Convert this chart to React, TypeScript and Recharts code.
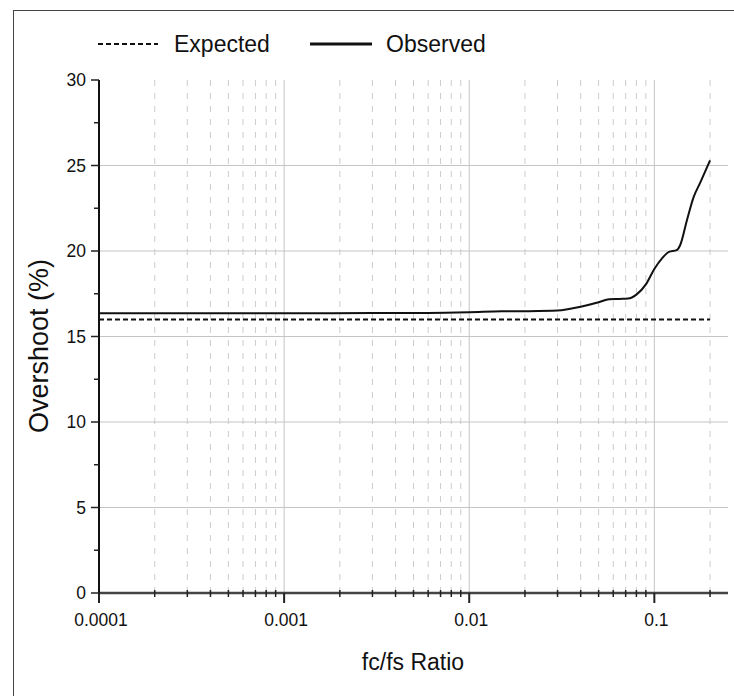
import React from 'react';
import { LineChart, Line, XAxis, YAxis, ReferenceLine } from 'recharts';

const FONT = '"Liberation Sans", Arial, Helvetica, sans-serif';

// ---- data ----
const xTicksMajor = [0.0001, 0.001, 0.01, 0.1];
const xTicksMinor = [
  0.0002, 0.0003, 0.0004, 0.0005, 0.0006, 0.0007, 0.0008, 0.0009,
  0.002, 0.003, 0.004, 0.005, 0.006, 0.007, 0.008, 0.009,
  0.02, 0.03, 0.04, 0.05, 0.06, 0.07, 0.08, 0.09,
  0.2,
];
const xDomain = [0.0001, 0.25];
const xGridMajor = [0.001, 0.01, 0.1];

const yTicksMajor = [0, 5, 10, 15, 20, 25, 30];
const yTicksMinor = [2.5, 7.5, 12.5, 17.5, 22.5, 27.5];
const yGrid = [5, 10, 15, 20, 25];

const seriesNames = ['Expected', 'Observed'];

const expectedX = [0.0001, 0.2];
const expectedY = [16, 16];

const observedX = [
  0.0001, 0.001, 0.003, 0.006, 0.01, 0.015, 0.02, 0.03, 0.04, 0.05, 0.057,
  0.065, 0.072, 0.08, 0.09, 0.1, 0.11, 0.12, 0.132, 0.138, 0.15, 0.163, 0.177, 0.2,
];
const observedY = [
  16.36, 16.36, 16.37, 16.38, 16.42, 16.47, 16.48, 16.52, 16.74, 17.0, 17.18,
  17.2, 17.22, 17.45, 18.05, 18.95, 19.57, 19.95, 20.05, 20.35, 21.8, 23.15, 24.0, 25.3,
];

const expectedData = expectedX.map((x, i) => ({ x, y: expectedY[i] }));
const observedData = observedX.map((x, i) => ({ x, y: observedY[i] }));
const xTicksAll = [...xTicksMajor, ...xTicksMinor].sort((a, b) => a - b);
const yTicksAll = [...yTicksMajor, ...yTicksMinor].sort((a, b) => a - b);

// ---- style constants ----
const X_TICK = 10;
const X_MARGIN = 11;
const Y_TICK = 8;
const Y_MARGIN = 5;

function XTick(props: any) {
  const { x, y, payload } = props;
  const v = payload.value;
  const major = xTicksMajor.includes(v);
  const axisY = y - X_TICK - X_MARGIN;
  return (
    <g>
      {major ? (
        <line x1={x} x2={x} y1={axisY} y2={axisY + X_TICK} stroke="#222" strokeWidth={2} />
      ) : (
        <line x1={x} x2={x} y1={axisY - 3} y2={axisY + 4} stroke="#222" strokeWidth={1.5} />
      )}
      {major && (
        <text x={x + 2} y={y} dy="0.71em" textAnchor="middle" fontSize={17.5} fill="#111" fontFamily={FONT}>
          {String(v)}
        </text>
      )}
    </g>
  );
}

function YTick(props: any) {
  const { x, y, payload } = props;
  const v = payload.value;
  const major = yTicksMajor.includes(v);
  const axisX = x + Y_MARGIN + Y_TICK;
  return (
    <g>
      {major ? (
        <line x1={axisX - Y_TICK} x2={axisX} y1={y} y2={y} stroke="#222" strokeWidth={1.5} />
      ) : (
        <line x1={axisX - 5} x2={axisX} y1={y} y2={y} stroke="#222" strokeWidth={1.5} />
      )}
      {major && (
        <text x={x} y={y} dy="0.36em" textAnchor="end" fontSize={17.5} fill="#111" fontFamily={FONT}>
          {String(v)}
        </text>
      )}
    </g>
  );
}

export default function App() {
  return (
    <div style={{ position: 'absolute', left: 0, top: 0, width: 734, height: 696, background: '#fff', overflow: 'hidden' }}>
      <div
        style={{
          position: 'absolute',
          left: 13,
          top: 10,
          width: 740,
          height: 700,
          borderLeft: '1.5px solid #444',
          borderTop: '1.5px solid #444',
        }}
      />
      <div style={{ position: 'absolute', left: 0, top: 0 }}>
        <LineChart width={734} height={696} margin={{ top: 80, right: 6, bottom: 43, left: 0 }}>
          {xGridMajor.map((v) => (
            <ReferenceLine key={'gx' + v} x={v} stroke="#c4c4c4" strokeWidth={1} />
          ))}
          {xTicksMinor.map((v) => (
            <ReferenceLine key={'mx' + v} x={v} stroke="#cccccc" strokeWidth={1} strokeDasharray="6 7" />
          ))}
          {yGrid.map((v) => (
            <ReferenceLine key={'gy' + v} y={v} stroke="#c4c4c4" strokeWidth={1} />
          ))}
          <XAxis
            dataKey="x"
            type="number"
            scale="log"
            domain={xDomain}
            allowDataOverflow
            ticks={xTicksAll}
            interval={0}
            tick={<XTick />}
            tickLine={false}
            tickSize={X_TICK}
            tickMargin={X_MARGIN}
            axisLine={{ stroke: '#444', strokeWidth: 2.5 }}
            height={60}
          />
          <YAxis
            type="number"
            domain={[0, 30]}
            ticks={yTicksAll}
            interval={0}
            tick={<YTick />}
            tickLine={false}
            tickSize={Y_TICK}
            tickMargin={Y_MARGIN}
            axisLine={{ stroke: '#111', strokeWidth: 2 }}
            width={99}
          />
          <Line
            data={expectedData}
            dataKey="y"
            name={seriesNames[0]}
            type="linear"
            stroke="#111"
            strokeWidth={2}
            strokeDasharray="5 3"
            dot={false}
            activeDot={false}
            isAnimationActive={false}
          />
          <Line
            data={observedData}
            dataKey="y"
            name={seriesNames[1]}
            type="monotone"
            stroke="#111"
            strokeWidth={2}
            dot={false}
            activeDot={false}
            isAnimationActive={false}
          />
        </LineChart>
      </div>
      <svg
        width={734}
        height={696}
        style={{ position: 'absolute', left: 0, top: 0, pointerEvents: 'none' }}
        fontFamily={FONT}
      >
        <line x1={98} x2={158} y1={44} y2={44} stroke="#111" strokeWidth={2} strokeDasharray="5 3" />
        <text x={174} y={52} fontSize={23} fill="#111">{seriesNames[0]}</text>
        <line x1={310} x2={372} y1={44} y2={44} stroke="#111" strokeWidth={3} />
        <text x={386} y={52} fontSize={23} fill="#111">{seriesNames[1]}</text>
        <text x={413} y={670} fontSize={23} fill="#111" textAnchor="middle">fc/fs Ratio</text>
        <text x={48} y={346} fontSize={27} fill="#111" textAnchor="middle" transform="rotate(-90 48 346)">
          Overshoot (%)
        </text>
      </svg>
    </div>
  );
}
